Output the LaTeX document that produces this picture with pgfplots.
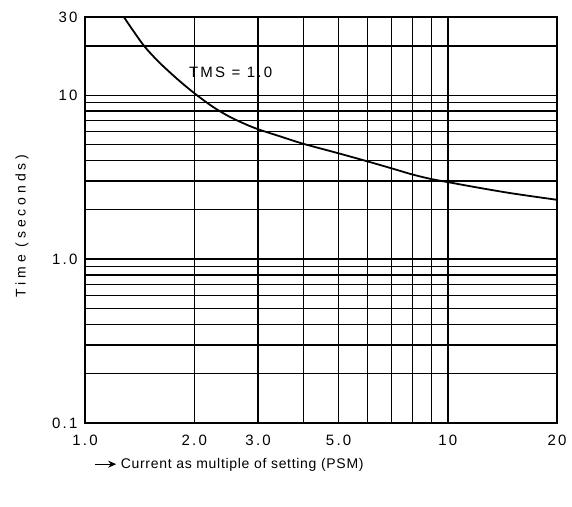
\documentclass[border=0pt]{standalone}
\usepackage{fontspec}
\setmainfont{Liberation Sans}
\newfontfamily\tickfont[LetterSpace=15]{Liberation Sans}
\newfontfamily\ylabfont[LetterSpace=28]{Liberation Sans}
\newfontfamily\xlabfont[LetterSpace=5]{Liberation Sans}
\usepackage{pgfplots}
\pgfplotsset{compat=1.18}
\usetikzlibrary{arrows.meta}

\begin{document}
\begin{tikzpicture}[x=1pt,y=1pt]
\begin{axis}[
  at={(0,0)}, anchor=south west,
  width=472pt, height=406pt, scale only axis,
  xmode=log, ymode=log,
  xmin=1, xmax=20, ymin=0.1, ymax=30,
  xtick={1,2,3,5,10,20}, xticklabels={1.0,2.0,3.0,5.0,10,20},
  ytick={0.1,1,10,30}, yticklabels={0.1,1.0,10,30},
  minor xtick={4,6,7,8,9},
  minor ytick={0.2,0.3,0.4,0.5,0.6,0.7,0.8,0.9,2,3,4,5,6,7,8,9,20},
  grid=both,
  minor grid style={black, line width=1.4pt},
  major grid style={black, line width=1.4pt},
  axis line style={black, line width=2pt},
  major tick length=0pt, minor tick length=0pt,
  tick style={draw=none},
  /pgf/number format/assume math mode=true,
  ticklabel style={font=\tickfont\fontsize{15}{17}\selectfont},
  yticklabel style={xshift=-4pt},
  xticklabel style={yshift=-8pt},
]
\addplot[black, line width=1.8pt, smooth, tension=0.5] coordinates {
  (1.28,30) (1.35,25.2) (1.46,19.8) (1.6,15.9) (1.8,12.5) (2,10.3)
  (2.25,8.5) (2.5,7.4) (2.75,6.7) (3,6.2) (3.5,5.55) (4,5.05) (5,4.42)
  (6,3.95) (7,3.58) (8,3.28) (9,3.08) (10,2.95) (12,2.74) (15,2.52) (20,2.3)
};
\node[font=\tickfont\fontsize{15}{17}\selectfont] at (axis cs:2.52,13.8) {TMS = 1.0};
\end{axis}
\node[rotate=90, font=\ylabfont\fontsize{14}{16}\selectfont] at (-63,197) {Time (seconds)};
\node[anchor=west, font=\xlabfont\fontsize{14}{16}\selectfont] at (6,-42)
  {\tikz[baseline=-0.6ex]\draw[-{Stealth[length=8pt,width=7pt]}, line width=1.3pt] (0,0)--(21pt,0);\hspace{4pt}Current as multiple of setting (PSM)};
\pgfresetboundingbox
\path (-85,-83) rectangle (487,423);
\end{tikzpicture}
\end{document}
